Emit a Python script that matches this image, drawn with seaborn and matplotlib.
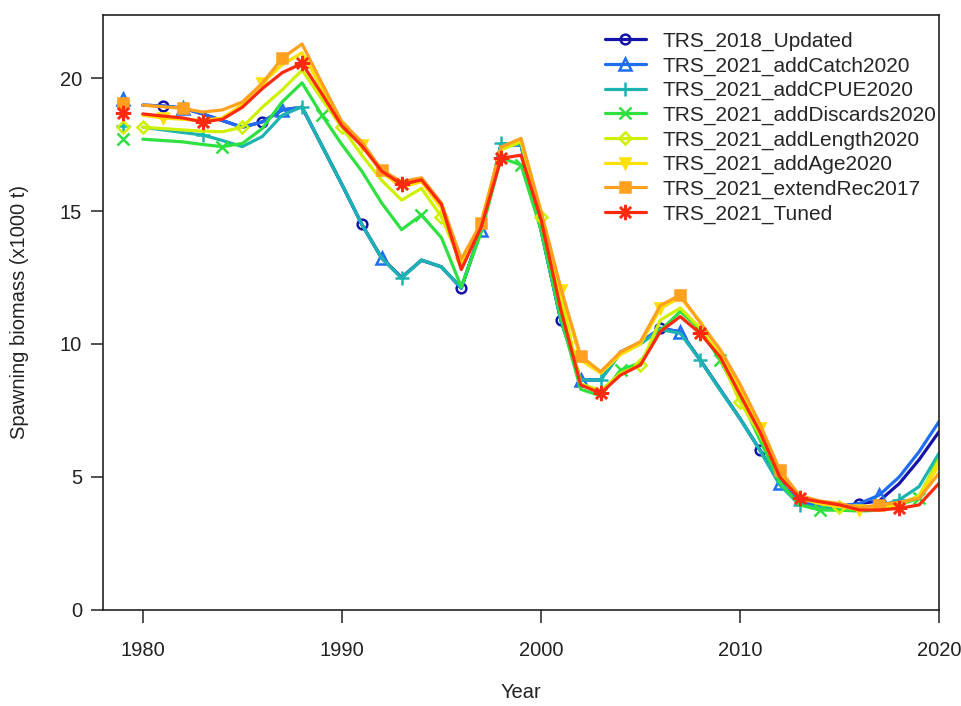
import matplotlib
matplotlib.use("Agg")
import matplotlib.pyplot as plt
import seaborn as sns
import pandas as pd

years = list(range(1980, 2021))
virgin_year = 1979

models = ["TRS_2018_Updated", "TRS_2021_addCatch2020", "TRS_2021_addCPUE2020",
          "TRS_2021_addDiscards2020", "TRS_2021_addLength2020", "TRS_2021_addAge2020",
          "TRS_2021_extendRec2017", "TRS_2021_Tuned"]

virgin = [19.0, 19.2, 18.2, 17.7, 18.15, 18.9, 19.05, 18.7]

updated = [18.98, 18.95, 18.87, 18.65, 18.4, 18.15, 18.35, 18.8, 18.9, 17.45,
           16.0, 14.5, 13.23, 12.5, 13.15, 12.9, 12.1, 14.3, 17.5, 17.48,
           14.3, 10.9, 8.65, 8.65, 9.7, 10.05, 10.59, 10.46, 9.4, 8.3,
           7.2, 6.02, 4.76, 4.1, 3.9, 3.9, 4.0, 4.1, 4.75, 5.65, 6.7]
add_catch = [18.98, 18.95, 18.87, 18.65, 18.4, 18.15, 18.35, 18.8, 18.9, 17.45,
             16.0, 14.5, 13.23, 12.5, 13.15, 12.9, 12.1, 14.3, 17.5, 17.48,
             14.3, 10.9, 8.65, 8.65, 9.7, 10.05, 10.59, 10.46, 9.4, 8.3,
             7.2, 6.02, 4.76, 4.1, 3.9, 3.9, 4.0, 4.32, 5.0, 5.95, 7.08]
add_cpue = [18.15, 18.05, 17.95, 17.86, 17.65, 17.42, 17.8, 18.6, 18.92, 17.45,
            16.0, 14.5, 13.23, 12.47, 13.16, 12.9, 12.1, 14.3, 17.54, 17.48,
            14.3, 10.9, 8.65, 8.65, 9.65, 10.0, 10.55, 10.4, 9.4, 8.27,
            7.2, 6.0, 4.7, 3.95, 3.85, 3.85, 3.85, 3.9, 4.14, 4.64, 5.89]
add_discards = [17.7, 17.65, 17.6, 17.5, 17.42, 17.54, 18.1, 19.1, 19.82, 18.6,
                17.5, 16.5, 15.3, 14.3, 14.85, 14.0, 12.15, 14.2, 17.0, 16.73,
                14.3, 11.0, 8.3, 8.05, 9.02, 9.3, 10.5, 11.22, 10.55, 9.4,
                8.0, 6.4, 4.8, 3.95, 3.76, 3.75, 3.72, 3.75, 3.95, 4.2, 5.75]
add_length = [18.15, 18.1, 18.05, 18.0, 17.98, 18.15, 18.9, 19.55, 20.3, 19.2,
              18.15, 17.1, 16.15, 15.41, 15.85, 14.79, 13.0, 14.5, 17.3, 17.6,
              14.79, 11.8, 8.5, 8.25, 8.9, 9.2, 10.9, 11.35, 10.6, 9.5,
              7.83, 6.6, 5.1, 4.2, 4.0, 3.88, 3.8, 3.85, 3.95, 4.3, 5.64]
add_age = [18.6, 18.5, 18.45, 18.4, 18.5, 19.0, 19.8, 20.5, 20.95, 19.6,
           18.25, 17.48, 16.45, 15.9, 16.1, 15.1, 13.05, 14.6, 17.4, 17.7,
           14.95, 12.03, 9.4, 8.9, 9.6, 10.0, 11.34, 11.75, 10.85, 9.7,
           8.3, 6.83, 5.2, 4.25, 4.0, 3.9, 3.76, 3.85, 4.0, 4.25, 5.45]
extend_rec = [18.98, 18.92, 18.86, 18.72, 18.8, 19.1, 19.8, 20.74, 21.28, 19.8,
              18.35, 17.6, 16.54, 16.1, 16.25, 15.3, 13.2, 14.54, 17.4, 17.73,
              15.0, 12.1, 9.55, 8.96, 9.7, 10.09, 11.45, 11.84, 10.8, 9.8,
              8.5, 7.0, 5.26, 4.3, 4.1, 4.0, 3.85, 3.95, 4.05, 4.2, 5.14]
tuned = [18.65, 18.57, 18.5, 18.35, 18.45, 18.9, 19.6, 20.2, 20.55, 19.4,
         18.2, 17.45, 16.5, 16.0, 16.17, 15.25, 12.8, 14.4, 16.98, 17.1,
         14.7, 11.3, 8.46, 8.15, 8.83, 9.21, 10.47, 11.03, 10.4, 9.52,
         8.1, 6.7, 5.0, 4.2, 4.07, 3.95, 3.76, 3.76, 3.82, 3.95, 4.76]

series = [updated, add_catch, add_cpue, add_discards, add_length, add_age, extend_rec, tuned]

xticks = [1980, 1990, 2000, 2010, 2020]
yticks = [0, 5, 10, 15, 20]

# styles
colors = ["#1414A8", "#1F6EF2", "#1DB3B0", "#2EE040", "#CFF000", "#FFE000", "#FFA01E", "#FF2A0E"]
markers = ["o", "^", "+", "x", "D", "v", "s", (8, 2, 0)]
filled = [False, False, True, True, False, True, True, True]
msizes = [7, 8, 10, 8.5, 6.5, 7, 7, 11]
offsets = [1, 2, 3, 4, 0, 1, 2, 3]

sns.set_style("ticks")
plt.rcParams["font.family"] = ["Liberation Sans", "DejaVu Sans"]

fig = plt.figure(figsize=(9.61, 7.06), dpi=100)
ax = fig.add_axes([0.1072, 0.136, 0.8699, 0.8428])

for i, (name, vals) in enumerate(zip(models, series)):
    df = pd.DataFrame({"Year": years, "SSB": vals})
    kw = dict(marker=markers[i], markersize=msizes[i], markeredgewidth=1.8,
              markeredgecolor=colors[i],
              markerfacecolor=(colors[i] if filled[i] else "none"))
    sns.lineplot(data=df, x="Year", y="SSB", ax=ax, color=colors[i], linewidth=2.3,
                 sort=False, estimator=None, label=name,
                 markevery=list(range(offsets[i], len(years) - 1, 5)), **kw)
    vdf = pd.DataFrame({"Year": [virgin_year], "SSB": [virgin[i]]})
    sns.lineplot(data=vdf, x="Year", y="SSB", ax=ax, color=colors[i], linestyle="none",
                 sort=False, estimator=None, legend=False, **kw)

ax.set_xlim(1978, 2020)
ax.set_ylim(0, 22.37)
ax.set_xticks(xticks)
ax.set_yticks(yticks)
ax.set_xticklabels([str(t) for t in xticks])
ax.set_yticklabels([str(t) for t in yticks])
ax.tick_params(axis="both", direction="out", length=9, width=1.1, labelsize=14.5,
               colors="#222222", labelcolor="#222222")
ax.tick_params(axis="x", pad=13)
ax.tick_params(axis="y", pad=6)
for s in ax.spines.values():
    s.set_visible(True)
    s.set_linewidth(1.2)
    s.set_color("#222222")

ax.set_xlabel("Year", fontsize=14.5, color="#222222", labelpad=17)
ax.set_ylabel("Spawning biomass (x1000 t)", fontsize=14.5, color="#222222", labelpad=22)

handles, labels = ax.get_legend_handles_labels()
ax.legend(handles, labels, loc="upper left", bbox_to_anchor=(0.6, 0.972),
          frameon=False, fontsize=15, borderpad=0, borderaxespad=0,
          handlelength=2.0, handletextpad=0.8, labelspacing=0.26)

fig.savefig("out.png", dpi=100)
